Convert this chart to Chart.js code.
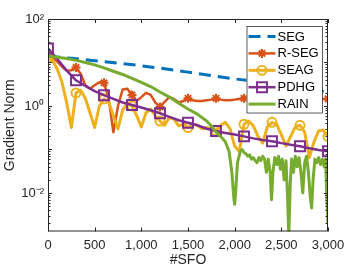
<!DOCTYPE html>
<html><head><meta charset="utf-8">
<script src="https://cdn.jsdelivr.net/npm/chart.js@4.4.0/dist/chart.umd.min.js"></script>
<style>html,body{margin:0;padding:0;background:#fff;overflow:hidden}</style>
</head><body>
<canvas id="c" width="362" height="271"></canvas>
<script>
// ---- data ----
const seriesNames = ['SEG', 'R-SEG', 'SEAG', 'PDHG', 'RAIN'];
const xTickValues = [0, 500, 1000, 1500, 2000, 2500, 3000];
const yMajorTicks = [0.01, 1, 100];
const yTickLabels = ['10\u207B\u00B2', '10\u2070', '10\u00B2'];

const segX = [0, 250, 500, 750, 1000, 1250, 1500, 1750, 2000, 2250, 2500, 2750, 3000];
const segY = [14, 12.5, 11, 9.7, 8.4, 7.2, 6.0, 5.0, 4.2, 3.6, 3.0, 2.5, 2.1];

const rsegX = [0,50,100,150,200,250,300,350,400,450,500,550,600,650,700,750,800,850,900,950,1000,1050,1100,1150,1200,1250,1300,1350,1400,1450,1500,1550,1600,1650,1700,1750,1800,1850,1900,1950,2000,2050,2100,2150,2200,2250,2300,2350,2400,2450,2500,2550,2600,2650,2700,2750,2800,2850,2900,2950,3000];
const rsegY = [15,13,10.5,8,6.5,6.6,7.7,5.5,3.0,2.5,3.0,3.5,3.4,1.5,0.25,1.0,2.4,2.5,1.8,1.3,1.6,2.0,1.8,1.2,0.95,1.25,1.6,1.45,1.2,1.3,1.5,1.35,1.3,1.3,1.35,1.4,1.5,1.4,1.35,1.35,1.4,1.45,1.5,1.4,1.35,1.4,1.4,1.45,1.5,1.45,1.4,1.4,1.45,1.45,1.5,1.45,1.4,1.4,1.4,1.45,1.45];

const seagX = rsegX.slice();
const seagY = [13,11,7,3.5,1.2,0.32,2.0,2.3,1.5,0.7,0.32,1.0,1.45,1.25,0.6,0.3,0.8,1.15,1.0,0.6,0.33,0.7,0.85,0.6,0.45,0.36,0.55,0.5,0.35,0.38,0.32,0.38,0.36,0.3,0.32,0.3,0.27,0.36,0.42,0.3,0.12,0.09,0.38,0.45,0.35,0.2,0.14,0.33,0.42,0.38,0.22,0.12,0.2,0.33,0.36,0.25,0.065,0.15,0.27,0.28,0.2];

const pdhgX = [0,100,200,300,400,500,600,700,800,900,1000,1100,1200,1300,1400,1500,1600,1700,1800,1900,2000,2100,2200,2300,2400,2500,2600,2700,2800,2900,3000];
const pdhgY = [21,12,6.5,3.9,2.9,2.2,1.77,1.45,1.2,1.05,0.92,0.8,0.68,0.56,0.47,0.41,0.36,0.3,0.265,0.24,0.22,0.2,0.18,0.165,0.155,0.14,0.128,0.119,0.107,0.097,0.091];

const rainX = [0,100,200,300,400,500,600,700,800,900,1000,1100,1200,1300,1400,1500,1600,1700,1750,1800,1850,1900,1940,1970,1990,2000,2010,2030,2060,2080,2100,2120,2140,2160,2180,2200,2220,2240,2260,2280,2300,2320,2340,2360,2380,2395,2410,2430,2450,2470,2490,2510,2530,2550,2565,2580,2595,2610,2630,2650,2670,2690,2710,2730,2750,2770,2790,2810,2825,2840,2860,2880,2900,2920,2940,2960,2975,2985,3000];
const rainY = [14,13.2,12.3,11.2,10,8.8,7.5,6.3,5.3,4.3,3.5,2.8,2.1,1.6,1.15,0.85,0.65,0.45,0.35,0.25,0.2,0.15,0.09,0.03,0.008,0.0055,0.01,0.05,0.09,0.1,0.085,0.08,0.07,0.075,0.06,0.065,0.055,0.05,0.065,0.055,0.07,0.06,0.03,0.06,0.03,0.007,0.03,0.065,0.045,0.07,0.035,0.06,0.02,0.055,0.01,0.001,0.015,0.06,0.03,0.07,0.04,0.065,0.03,0.01,0.05,0.07,0.03,0.008,0.0045,0.02,0.06,0.05,0.065,0.045,0.06,0.04,0.06,0.01,0.002];

// ---- styling ----
const colors = ['#0072BD', '#D95319', '#EDB120', '#7E2F8E', '#77AC30'];
const pts = (xs, ys) => xs.map((x, i) => ({x: x, y: ys[i]}));
const markerAt = r => (ctx => (ctx.raw && ctx.raw.x % 300 === 0) ? r : 0);
const FONT = "'Liberation Sans', Arial, Helvetica, sans-serif";
const TXT = '#262626';

const datasets = [
  {label: seriesNames[0], data: pts(segX, segY), borderColor: colors[0], borderWidth: 3, borderDash: [12, 7], pointRadius: 0, order: 5, mStyle: false, mRad: 0},
  {label: seriesNames[1], data: pts(rsegX, rsegY), borderColor: colors[1], borderWidth: 2.5, pointStyle: 'star', pointRadius: markerAt(4.5), pointBorderWidth: 2, pointBorderColor: colors[1], pointBackgroundColor: 'rgba(0,0,0,0)', order: 4, mStyle: 'star', mRad: 4.5},
  {label: seriesNames[2], data: pts(seagX, seagY), borderColor: colors[2], borderWidth: 3, pointStyle: 'circle', pointRadius: markerAt(4.5), pointBorderWidth: 2, pointBorderColor: colors[2], pointBackgroundColor: 'rgba(0,0,0,0)', order: 3, mStyle: 'circle', mRad: 4.5},
  {label: seriesNames[3], data: pts(pdhgX, pdhgY), borderColor: colors[3], borderWidth: 2.5, pointStyle: 'rect', pointRadius: markerAt(7), pointBorderWidth: 2, pointBorderColor: colors[3], pointBackgroundColor: 'rgba(0,0,0,0)', order: 2, mStyle: 'rect', mRad: 7},
  {label: seriesNames[4], data: pts(rainX, rainY), borderColor: colors[4], borderWidth: 3, pointRadius: 0, order: 1, mStyle: false, mRad: 0}
];
datasets.forEach(d => { d.fill = false; d.tension = 0; d.pointHoverRadius = 0; d.borderJoinStyle = 'round'; });

// frame with inward ticks (MATLAB box style)
const framePlugin = {
  id: 'frame',
  afterDatasetsDraw(chart) {
    const {ctx, chartArea: a} = chart;
    const xs = chart.scales.x, ys = chart.scales.y;
    ctx.save();
    ctx.strokeStyle = TXT; ctx.lineWidth = 1;
    ctx.strokeRect(a.left + 0.5, a.top + 0.5, a.right - a.left - 1, a.bottom - a.top - 1);
    ctx.beginPath();
    xTickValues.forEach(v => {
      const px = Math.round(xs.getPixelForValue(v)) + 0.5;
      ctx.moveTo(px, a.bottom); ctx.lineTo(px, a.bottom - 4);
      ctx.moveTo(px, a.top); ctx.lineTo(px, a.top + 4);
    });
    for (let k = -3; k <= 2; k++) {
      for (let m = 1; m <= 9; m++) {
        const v = m * Math.pow(10, k);
        if (v < ys.min || v > ys.max) continue;
        const py = Math.round(ys.getPixelForValue(v)) + 0.5;
        const len = (m === 1) ? 4 : 2.5;
        ctx.moveTo(a.left, py); ctx.lineTo(a.left + len, py);
        ctx.moveTo(a.right, py); ctx.lineTo(a.right - len, py);
      }
    }
    ctx.stroke();
    ctx.restore();
  }
};

// MATLAB-like legend box drawn from the datasets
const legendPlugin = {
  id: 'mlegend',
  afterDraw(chart) {
    const {ctx, chartArea: a} = chart;
    const bx = a.right - 81.5, by = a.top + 7, bw = 75.5, bh = 86.5;
    ctx.save();
    ctx.fillStyle = '#fff';
    ctx.fillRect(bx, by, bw, bh);
    ctx.strokeStyle = TXT; ctx.lineWidth = 0.75;
    ctx.strokeRect(bx + 0.5, by + 0.5, bw, bh);
    ctx.font = '13px ' + FONT;
    ctx.textBaseline = 'middle';
    ctx.fillStyle = '#000';
    chart.data.datasets.forEach((d, i) => {
      const cy = by + 10.5 + i * 16.9;
      const x1 = bx + 2, x2 = bx + 29;
      ctx.save();
      ctx.strokeStyle = d.borderColor; ctx.lineWidth = d.borderWidth;
      ctx.setLineDash(d.borderDash || []);
      ctx.beginPath(); ctx.moveTo(x1, cy); ctx.lineTo(x2, cy); ctx.stroke();
      ctx.setLineDash([]);
      if (d.mStyle) {
        ctx.strokeStyle = d.borderColor; ctx.fillStyle = 'rgba(0,0,0,0)'; ctx.lineWidth = 2;
        Chart.helpers.drawPoint(ctx, {pointStyle: d.mStyle, radius: d.mRad, rotation: 0, borderWidth: 2}, (x1 + x2) / 2, cy);
      }
      ctx.restore();
      ctx.fillStyle = '#000';
      ctx.fillText(d.label, x2 + 2, cy + 0.5);
    });
    ctx.restore();
  }
};

new Chart(document.getElementById('c'), {
  type: 'line',
  data: {datasets: datasets},
  options: {
    responsive: false,
    animation: false,
    events: [],
    layout: {padding: {top: 19, right: 34, left: 0, bottom: 0}},
    plugins: {legend: {display: false}, tooltip: {enabled: false}},
    scales: {
      x: {
        type: 'linear', min: 0, max: 3000,
        afterBuildTicks: s => { s.ticks = xTickValues.map(v => ({value: v})); },
        afterFit: s => { s.height = 39.5; },
        grid: {display: false, drawTicks: false},
        border: {display: false},
        ticks: {color: TXT, font: {family: FONT, size: 13}, padding: 6, maxRotation: 0, autoSkip: false},
        title: {display: true, text: '#SFO', color: TXT, font: {family: FONT, size: 14}, padding: {top: 0, bottom: 2}}
      },
      y: {
        type: 'logarithmic', min: 0.0013, max: 100,
        afterBuildTicks: s => { s.ticks = yMajorTicks.map(v => ({value: v})); },
        afterFit: s => { s.width = 48; },
        grid: {display: false, drawTicks: false},
        border: {display: false},
        ticks: {color: TXT, font: {family: FONT, size: 13}, padding: 4, autoSkip: false,
          callback: v => { const i = yMajorTicks.indexOf(v); return i >= 0 ? yTickLabels[i] : ''; }},
        title: {display: true, text: 'Gradient Norm', color: TXT, font: {family: FONT, size: 14}, padding: {top: 2, bottom: 0}}
      }
    }
  },
  plugins: [framePlugin, legendPlugin]
});
</script>
</body></html>
